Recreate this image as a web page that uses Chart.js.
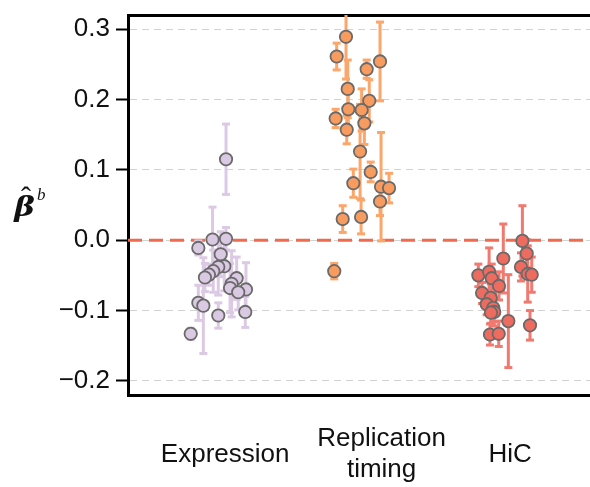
<!DOCTYPE html>
<html><head><meta charset="utf-8">
<script src="https://cdn.jsdelivr.net/npm/chart.js@4"></script>
<style>html,body{margin:0;padding:0;background:#fff}</style>
</head><body>
<canvas id="c" width="590" height="487"></canvas>
<script>
// ---- data ----
const categories = ['Expression', ['Replication', 'timing'], 'HiC'];
const categoryPos = [1, 2, 3];
const labelPos = [1.05, 2.14, 3.035];
const yTicks = [-0.2, -0.1, 0.0, 0.1, 0.2, 0.3];
const xMin = 0.373, xMax = 3.592;
const yMin = -0.22, yMax = 0.32;

const exprOffset = [0.056,-0.038,0.056,-0.137,0.019,0.044,0.002,-0.033,-0.063,-0.091,0.130,0.095,0.084,0.195,0.141,-0.137,-0.102,0.002,0.190,-0.190];
const exprValue  = [0.115,0.001,0.002,-0.011,-0.020,-0.037,-0.038,-0.044,-0.049,-0.053,-0.054,-0.062,-0.068,-0.070,-0.074,-0.089,-0.093,-0.107,-0.102,-0.133];
const exprError  = [0.050,0.046,0.016,0.010,0.032,0.035,0.040,0.030,0.015,0.020,0.030,0.047,0.035,0.038,0.025,0.025,0.068,0.018,0.022,0.008];

const repOffset = [-0.108,-0.173,0.036,0.129,-0.096,0.054,-0.092,0.001,-0.180,0.020,-0.103,-0.010,0.064,-0.057,0.136,0.192,0.129,-0.131,-0.003,-0.190];
const repValue  = [0.289,0.261,0.243,0.254,0.215,0.198,0.186,0.185,0.173,0.166,0.157,0.126,0.097,0.081,0.076,0.074,0.055,0.030,0.033,-0.044];
const repError  = [0.060,0.019,0.013,0.056,0.041,0.030,0.030,0.030,0.013,0.030,0.020,0.067,0.014,0.020,0.077,0.021,0.020,0.019,0.024,0.011];

const hicOffset = [0.121,0.151,-0.012,0.111,-0.186,-0.111,-0.093,0.158,0.186,-0.042,-0.160,-0.100,-0.128,-0.082,-0.075,-0.098,0.023,0.174,-0.105,-0.044];
const hicValue  = [-0.001,-0.019,-0.026,-0.038,-0.050,-0.045,-0.054,-0.048,-0.049,-0.065,-0.075,-0.082,-0.091,-0.096,-0.102,-0.103,-0.115,-0.121,-0.134,-0.133];
const hicError  = [0.050,0.020,0.049,0.020,0.016,0.034,0.020,0.040,0.025,0.020,0.015,0.020,0.015,0.020,0.020,0.015,0.066,0.021,0.015,0.018];

const groups = [
  {pos: categoryPos[0], off: exprOffset, val: exprValue, err: exprError, fill: '#dac9e2', bar: '#dccae4'},
  {pos: categoryPos[1], off: repOffset,  val: repValue,  err: repError,  fill: '#f89b5e', bar: '#fca66b'},
  {pos: categoryPos[2], off: hicOffset,  val: hicValue,  err: hicError,  fill: '#ee6b60', bar: '#f07a70'}
];

const datasets = [];
datasets.push({
  type: 'line', data: [{x: xMin, y: 0}, {x: xMax, y: 0}],
  borderColor: '#ef6a4f', borderWidth: 3, borderDash: [14, 7],
  pointRadius: 0, order: 5, clip: 0
});
groups.forEach(g => {
  const eb = [];
  g.val.forEach((v, i) => {
    const x = g.pos + g.off[i];
    eb.push({x: x, y: v - g.err[i]}, {x: x, y: v + g.err[i]}, {x: x, y: null});
  });
  datasets.push({
    type: 'line', data: eb, spanGaps: false, showLine: true,
    borderColor: g.bar, borderWidth: 3,
    pointStyle: 'line', pointRadius: 4, pointBorderWidth: 3,
    pointBorderColor: g.bar, pointBackgroundColor: g.bar, order: 3
  });
});
groups.forEach(g => {
  datasets.push({
    type: 'scatter',
    data: g.val.map((v, i) => ({x: g.pos + g.off[i], y: v})),
    backgroundColor: g.fill, borderColor: '#6a6a6a', borderWidth: 1.8,
    pointRadius: 6.2, order: 1
  });
});

const font = {family: '"Liberation Sans", Arial, Helvetica, sans-serif', size: 26};

function placeText(ctx, txt, fontStr, x, top, centre) {
  ctx.font = fontStr;
  const m = ctx.measureText(txt);
  const w = m.actualBoundingBoxLeft + m.actualBoundingBoxRight;
  const left = centre ? x - w / 2 : x;
  ctx.fillText(txt, left + m.actualBoundingBoxLeft, top + m.actualBoundingBoxAscent);
}

const yTitle = {
  id: 'yTitle',
  afterDraw(chart) {
    const ctx = chart.ctx;
    ctx.save();
    ctx.fillStyle = '#111';
    ctx.textBaseline = 'alphabetic';
    ctx.textAlign = 'left';
    ctx.save();
    ctx.translate(13, 0); ctx.scale(1.15, 1);
    placeText(ctx, '\u03B2', 'italic bold 27px "DejaVu Serif", "Liberation Serif", serif', 0, 195, false);
    ctx.restore();
    placeText(ctx, '\u02C6', '30px "Liberation Serif", "DejaVu Serif", serif', 26, 186, true);
    placeText(ctx, 'b', 'italic 17px "Liberation Serif", "DejaVu Serif", serif', 37, 188, false);
    ctx.restore();
  }
};

const noPadH = s => { s.paddingLeft = 0; s.paddingRight = 0; };

new Chart(document.getElementById('c'), {
  type: 'scatter',
  data: {datasets},
  plugins: [yTitle],
  options: {
    responsive: false, animation: false, devicePixelRatio: 1,
    layout: {autoPadding: false, padding: {top: 15, right: 0, bottom: 0, left: 0}},
    plugins: {legend: {display: false}, tooltip: {enabled: false}},
    scales: {
      x: {
        type: 'linear', position: 'bottom', min: xMin, max: xMax,
        afterBuildTicks: s => { s.ticks = labelPos.map(v => ({value: v})); },
        afterFit: s => { s.height = 92; noPadH(s); },
        ticks: {
          font: Object.assign({lineHeight: 1.2}, font), color: '#111', padding: 44,
          crossAlign: 'center', autoSkip: false, maxRotation: 0, minRotation: 0,
          callback: (v, i) => categories[i]
        },
        grid: {display: false, drawTicks: false},
        border: {display: true, color: '#000', width: 3}
      },
      x2: {
        type: 'linear', position: 'top', min: xMin, max: xMax,
        afterFit: s => { s.height = 0; noPadH(s); },
        ticks: {display: false},
        grid: {display: false, drawTicks: false},
        border: {display: true, color: '#000', width: 3}
      },
      y: {
        type: 'linear', min: yMin, max: yMax,
        afterBuildTicks: s => { s.ticks = yTicks.map(v => ({value: v})); },
        afterFit: s => { s.width = 128; s.paddingTop = 0; s.paddingBottom = 0; },
        ticks: {
          font: font, color: '#111', padding: 6,
          callback: v => Number(v).toFixed(1).replace('-', '\u2212')
        },
        grid: {color: '#d2d2d2', lineWidth: 1, tickColor: '#000', tickWidth: 2, tickLength: 12},
        border: {display: true, color: '#000', width: 3, dash: [7, 5]}
      }
    }
  }
});
</script>
</body></html>
